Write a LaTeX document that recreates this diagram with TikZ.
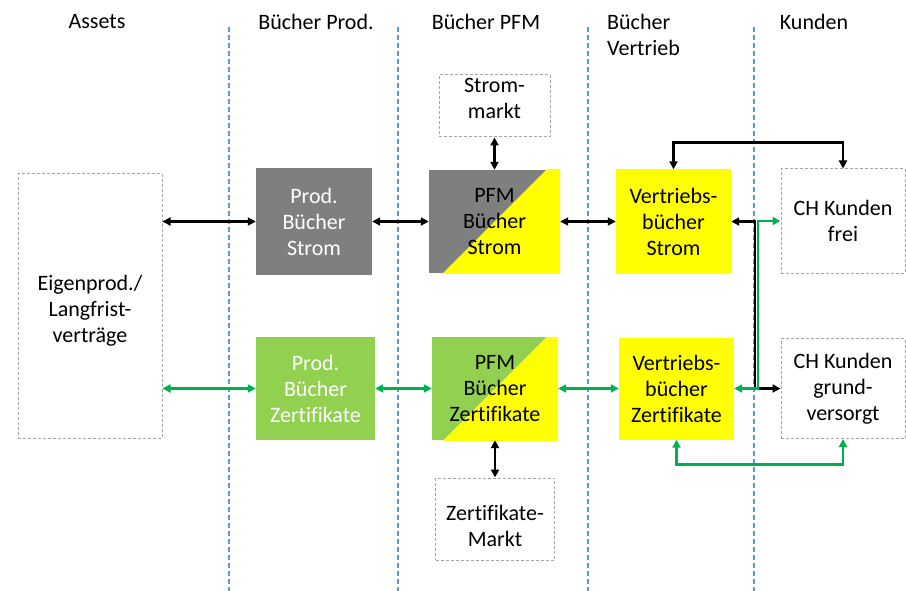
\documentclass[tikz,border=0pt]{standalone}
\usepackage{fontspec}
\setmainfont{Carlito}[Ligatures=NoCommon]
\usepackage{tikz}
\usetikzlibrary{
	arrows.meta
}
\definecolor{bookgray}{HTML}{7F7F7F}
\definecolor{bookgreen}{HTML}{92D050}
\definecolor{bookyellow}{HTML}{FFFF00}
\definecolor{flowgreen}{HTML}{00B050}
\definecolor{sepblue}{HTML}{5B9BD5}
\definecolor{framegray}{HTML}{A6A6A6}

\begin{document}
\begin{tikzpicture}[x=1pt,y=-1pt,
		font=\fontsize{22}{26}\selectfont,
		box/.style 2 args={rectangle,inner sep=0pt,align=center,minimum width=#1,minimum height=#2},
		frame/.style={draw=framegray,line width=1pt,dash pattern=on 3pt off 2pt},
		split/.style={path picture={
			\fill[bookyellow] (path picture bounding box.center) ++(-80,80) -- ++(160,-160) -- ++(0,160) -- cycle;}},
		sep/.style={sepblue,line width=1.2pt,dash pattern=on 5pt off 3pt},
		link/.style={<->,line width=2.6pt,>={Triangle[length=8pt,width=8pt]}},
		power/.style={link,black},
		cert/.style={link,flowgreen}
	]
		\useasboundingbox (0,0) rectangle (906,591);

		\foreach \x in {229,398,588,754}
			\draw[sep] (\x,27) -- (\x,591);

		\draw
			node (hAssets)  at (97,22)  {Assets}
			node (hProd)    at (316,22) {Bücher Prod.}
			node (hPfm)     at (486,22) {Bücher PFM}
			node[anchor=west,align=left,inner sep=0pt] (hVertrieb) at (607,35) {Bücher\\Vertrieb}
			node (hKunden)  at (814,22) {Kunden}

			node[box={144pt}{264pt},frame]                    (eigen)       at (90,306)      {}
			node[box={116pt}{107pt},fill=bookgray,text=white]  (prodS)       at (314,221.5)   {Prod.\\Bücher\\Strom}
			node[box={119pt}{103pt},fill=bookgreen,text=white] (prodZ)       at (315.5,388.5) {Prod.\\Bücher\\Zertifikate}
			node[box={131pt}{103pt},fill=bookgray,split]       (pfmS)        at (494.5,221.5) {PFM\\Bücher\\Strom}
			node[box={126pt}{103pt},fill=bookgreen,split]      (pfmZ)        at (495,388.5)   {PFM\\Bücher\\Zertifikate}
			node[box={111pt}{62pt},frame]                     (stromMarkt)  at (494.5,106)   {}
			node[box={119pt}{82pt},frame]                     (zertMarkt)   at (495,519)     {}
			node[box={115pt}{104pt},fill=bookyellow]           (vertS)       at (673.5,221.5) {Vertriebs-\\bücher\\Strom}
			node[box={115pt}{102pt},fill=bookyellow]           (vertZ)       at (676.5,388.5) {Vertriebs-\\bücher\\Zertifikate}
			node[box={124pt}{104pt},frame]                    (kundenFrei)  at (843,221)     {CH Kunden\\frei}
			node[box={124pt}{100pt},frame]                    (kundenGrund) at (843,388.5)   {CH Kunden\\grund-\\versorgt}

			node[align=center] (eigenText)      at ([yshift=-5pt]eigen.center)     {Eigenprod./\\Langfrist-\\verträge}
			node[align=center] (stromMarktText) at ([yshift=8pt]stromMarkt.center)  {Strom-\\markt}
			node[align=center] (zertMarktText)  at ([yshift=-7pt]zertMarkt.center)  {Zertifikate-\\Markt}
		;

		\coordinate (busK) at (755,300);
		\coordinate (busG) at (758,300);

		\path
			(eigen.east |- prodS.west) edge[power] (prodS)
			(eigen.east |- prodZ.west) edge[cert] (prodZ)
			(prodS) edge[power] (pfmS)
			(prodZ) edge[cert] (pfmZ)
			(pfmS) edge[power] (vertS)
			(pfmZ) edge[cert] (vertZ)
			(stromMarkt) edge[power] (pfmS)
			(pfmZ) edge[power] (zertMarkt)
		;

		\draw[power] (vertS.north) -- ++(0,-27) -| (kundenFrei.north);
		\draw[cert] (vertZ.south) -- ++(0,25) -| (kundenGrund.south);
		\draw[power] (vertS.east) -- (vertS.east -| busK) |- (kundenGrund.west);
		\draw[cert] (kundenFrei.west) -- (kundenFrei.west -| busG) |- (vertZ.east);
	\end{tikzpicture}
\end{document}
